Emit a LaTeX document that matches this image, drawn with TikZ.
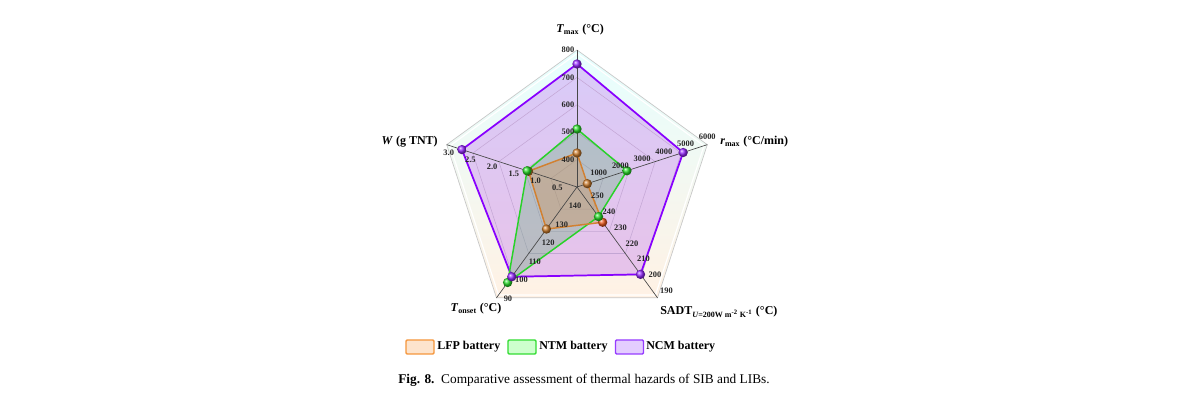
\documentclass[tikz,border=0pt]{standalone}
\usepackage{fontspec}
\setmainfont{Liberation Serif}
\usetikzlibrary{calc}
\definecolor{bgtop}{RGB}{230,255,255}
\definecolor{bgbot}{RGB}{255,241,228}
\definecolor{ncmline}{RGB}{136,0,255}
\definecolor{ncmfill}{RGB}{190,105,240}
\definecolor{ncmball}{RGB}{150,40,255}
\definecolor{ntmline}{RGB}{40,210,40}
\definecolor{ntmfill}{RGB}{70,170,90}
\definecolor{ntmball}{RGB}{40,220,40}
\definecolor{lfpline}{RGB}{210,128,48}
\definecolor{lfpfill}{RGB}{210,140,70}
\definecolor{lfpball}{RGB}{205,125,45}
\definecolor{lfpred}{RGB}{240,90,30}
\definecolor{legl}{RGB}{245,150,60}
\definecolor{leglf}{RGB}{253,228,205}
\definecolor{legn}{RGB}{50,220,50}
\definecolor{legnf}{RGB}{205,255,205}
\definecolor{legc}{RGB}{150,60,255}
\definecolor{legcf}{RGB}{228,205,255}
\begin{document}
\begin{tikzpicture}[x=0.75pt,y=0.75pt,
  tick/.style={font=\fontsize{6.3}{6.3}\selectfont\bfseries, text=black!85, inner sep=0pt},
  axtitle/.style={font=\fontsize{9}{10}\selectfont\bfseries, inner sep=0pt},
  gridring/.style={draw=black!22, line width=0.4pt},
  axisline/.style={draw=black!72, line width=0.5pt},
  legbox/.style={minimum width=21pt, minimum height=10.5pt, inner sep=0pt, line width=1.1pt, rounded corners=0.8pt},
  legtext/.style={font=\fontsize{9}{10}\selectfont\bfseries, inner sep=0pt, anchor=west}]
\useasboundingbox (0,0) rectangle (1200,409);
\fill[white] (0,0) rectangle (1200,409);
\begin{scope}[shift={(577,222)}]
  \coordinate (O) at (0,0);
  \coordinate (tmax) at (90:137);
  \coordinate (rmax) at (18:137);
  \coordinate (sadt) at (-54:137);
  \coordinate (tons) at (-126:137);
  \coordinate (w) at (162:137);
  % background
  \shade[top color=bgtop, bottom color=bgbot, draw=black!22, line width=0.5pt]
    (tmax)--(rmax)--(sadt)--(tons)--(w)--cycle;
  \draw[white, line width=0.9pt] (90:133.5)--(18:133.5)--(-54:133.5)--(-126:133.5)--(162:133.5)--cycle;
  \foreach \k in {1,...,4}
    \draw[gridring] (90:{27.4*\k})--(18:{27.4*\k})--(-54:{27.4*\k})--(-126:{27.4*\k})--(162:{27.4*\k})--cycle;
  % data
  \coordinate (n1) at (90:123);  \coordinate (n2) at (18:111.6);
  \coordinate (n3) at (-54:108); \coordinate (n4) at (-126:111);
  \coordinate (n5) at (162:121);
  \coordinate (g1) at (90:58);   \coordinate (g2) at (18:52.5);
  \coordinate (g3) at (-54:36.6);\coordinate (g4) at (-126:118);
  \coordinate (g5) at (162:52.5);
  \coordinate (l1) at (90:34);   \coordinate (l2) at (18:10.8);
  \coordinate (l3) at (-54:43.6);\coordinate (l4) at (-126:52);
  \coordinate (l5) at (162:51);
  \fill[ncmfill, fill opacity=.34] (n1)--(n2)--(n3)--(n4)--(n5)--cycle;
  \fill[ntmfill, fill opacity=.27] (g1)--(g2)--(g3)--(g4)--(g5)--cycle;
  \fill[lfpfill, fill opacity=.32] (l1)--(l2)--(l3)--(l4)--(l5)--cycle;
  % axes
  \foreach \n in {tmax,rmax,sadt,tons,w} \draw[axisline] (O)--(\n);
  % outlines
  \draw[ncmline, line width=1.3pt, line join=round] (n1)--(n2)--(n3)--(n4)--(n5)--cycle;
  \draw[ntmline, line width=1.1pt, line join=round] (g1)--(g2)--(g3)--(g4)--(g5)--cycle;
  \draw[lfpline, line width=1.1pt, line join=round] (l1)--(l2)--(l3)--(l4)--(l5)--cycle;
  % balls
  \foreach \p in {l1,l2,l4,l5} \shade[ball color=lfpball] (\p) circle[radius=3.5pt];
  \shade[ball color=lfpred] (l3) circle[radius=3.5pt];
  \foreach \p in {g1,g2,g3,g4,g5} \shade[ball color=ntmball] (\p) circle[radius=3.5pt];
  \foreach \p in {n1,n2,n3,n4,n5} \shade[ball color=ncmball] (\p) circle[radius=3.5pt];
  % tick labels
  \foreach \k/\v in {1/400,2/500,3/600,4/700,5/800}
    \node[tick] (tm\k) at ($(90:{27.4*\k})+(-9,0)$) {\v};
  \foreach \k/\v in {1/1000,2/2000,3/3000,4/4000,5/5000,6/6000}
    \node[tick] (rm\k) at ($(18:{22.83*\k})+(0,7.5)$) {\v};
  \foreach \k/\v in {1/0.5,2/1.0,3/1.5,4/2.0,5/2.5,6/3.0}
    \node[tick] (wl\k) at ($(162:{22.83*\k})+(2,-8)$) {\v};
  \foreach \k/\v in {1/140,2/130,3/120,4/110,5/100,6/90}
    \node[tick] (to\k) at ($(-126:{22.83*\k})+(11.5,-0.5)$) {\v};
  \foreach \k/\v in {1/250,2/240,3/230,4/220,5/210,6/200,7/190}
    \node[tick] (sa\k) at ($(-54:{19.57*\k})+(9,7)$) {\v};
\end{scope}
% axis titles
\node[axtitle] (ttmax) at (580,379) {\textit{T}\textsubscript{max} (°C)};
\node[axtitle, anchor=west] (trmax) at (720,267) {\textit{r}\textsubscript{max} (°C/min)};
\node[axtitle, anchor=east] (tw) at (438,267) {\textit{W} (g TNT)};
\node[axtitle] (ttons) at (476,100) {\textit{T}\textsubscript{onset} (°C)};
\node[axtitle, anchor=west] (tsadt) at (660,97) {SADT\textsubscript{\textit{U}=200W m\textsuperscript{-2} K\textsuperscript{-1}} (°C)};
% legend
\node[legbox, draw=legl, fill=leglf] (bl) at (420,62) {};
\node[legtext] (xl) at (437,62) {LFP battery};
\node[legbox, draw=legn, fill=legnf] (bn) at (522,62) {};
\node[legtext] (xn) at (539,62) {NTM battery};
\node[legbox, draw=legc, fill=legcf] (bc) at (629.5,62) {};
\node[legtext] (xc) at (646,62) {NCM battery};
% caption
\node[anchor=west, inner sep=0pt, font=\fontsize{10}{11}\selectfont] (cap) at (398,29)
  {\textbf{Fig. 8.}\enspace Comparative assessment of thermal hazards of SIB and LIBs.};
\end{tikzpicture}
\end{document}
